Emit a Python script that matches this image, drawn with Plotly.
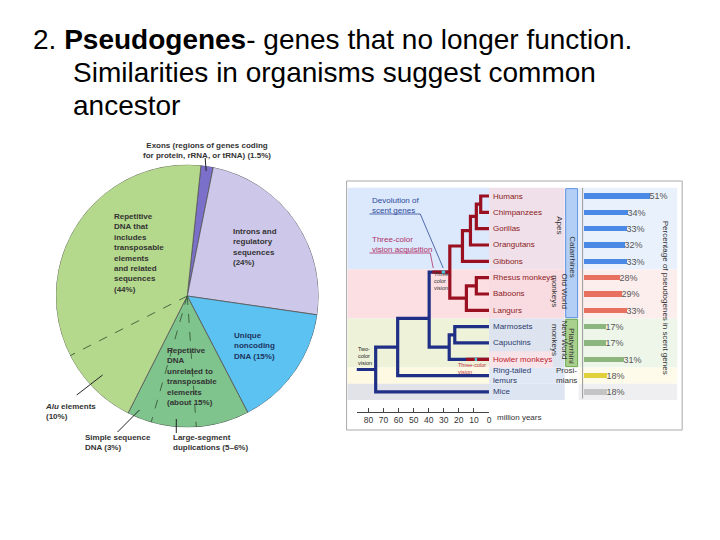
import plotly.graph_objects as go

W, H = 720, 540
OFF = 8  # page offset of the plot inside the browser window


def px(x):
    return (x - OFF) / W


def py(y):
    return 1 - (y - OFF) / H


# ------------------------------------------------------------------ data
title_lines = ["2. <b>Pseudogenes</b>- genes that no longer function.",
               "Similarities in organisms suggest common",
               "ancestor"]

# human genome composition (percent)
pie_categories = ["Exons", "Introns and regulatory sequences", "Unique noncoding DNA",
                  "Repetitive DNA unrelated to transposable elements",
                  "Repetitive DNA that includes transposable elements"]
pie_values = [1.5, 24, 15, 15, 44]
unrelated_parts = [6.5, 5.5, 3.0]   # other, large-segment duplications, simple sequence DNA
te_parts = [10, 34]                 # Alu elements, other transposable-element sequences

# primate tree and scent-gene pseudogenes
species = ["Humans", "Chimpanzees", "Gorillas", "Orangutans", "Gibbons",
           "Rhesus monkeys", "Baboons", "Langurs",
           "Marmosets", "Capuchins", "Howler monkeys",
           "Ring-tailed lemurs", "Mice"]
species_labels = ["Humans", "Chimpanzees", "Gorillas", "Orangutans", "Gibbons",
                  "Rhesus monkeys", "Baboons", "Langurs",
                  "Marmosets", "Capuchins", "Howler monkeys",
                  "Ring-tailed<br>lemurs", "Mice"]
scent_pct = [51, 34, 33, 32, 33, 28, 29, 33, 17, 17, 31, 18, 18]

group_names = ["Apes", "Old World<br>monkeys", "New World<br>monkeys", "Prosi-<br>mians", ""]
group_first = [0, 5, 8, 11, 12]
group_last = [4, 7, 10, 11, 12]
super_names = ["Catarrhines", "Platyrrhini"]
super_first = [0, 8]
super_last = [7, 10]

# (node, age in million years, children) -- listed from tips to root
tree_nodes = [
    ("HC", 5.5, ["Humans", "Chimpanzees"]),
    ("HCG", 8.4, ["HC", "Gorillas"]),
    ("GreatApes", 12.3, ["HCG", "Orangutans"]),
    ("Hominoids", 17.6, ["GreatApes", "Gibbons"]),
    ("RB", 8.4, ["Rhesus monkeys", "Baboons"]),
    ("OWM", 15.0, ["RB", "Langurs"]),
    ("Catarrhines", 26.0, ["Hominoids", "OWM"]),
    ("MC", 22.7, ["Marmosets", "Capuchins"]),
    ("Platyrrhines", 26.4, ["MC", "Howler monkeys"]),
    ("Anthropoids", 39.7, ["Catarrhines", "Platyrrhines"]),
    ("Primates", 60.6, ["Anthropoids", "Ring-tailed lemurs"]),
    ("Root", 75.2, ["Primates", "Mice"]),
]
root_stem_age = 87.9
anthropoid_row = 7.5
# events on branches: (branch ending at, from age, to age, kind)
branch_events = [
    ("Catarrhines", 37.5, 26.0, "three"),
    ("Catarrhines", 31.4, 29.1, "scent"),
    ("Howler monkeys", 15.2, 0.0, "three"),
    ("Howler monkeys", 9.5, 7.9, "scent"),
]
time_ticks = [80, 70, 60, 50, 40, 30, 20, 10, 0]

# ------------------------------------------------------------------ styles
pie_colors = ["#7b70c9", "#cdc8ea", "#5cc2f2", "#7ec48c", "#b5d98c"]
NAVY, RED, CYAN = "#1f2f85", "#9a1020", "#4ec3d6"
bar_colors = ["#4a8ae6"] * 5 + ["#e8705e"] * 3 + ["#8db57e"] * 3 + ["#e0d03c", "#c4c4c4"]
band_tree = ["#dce8fb", "#fcdfe3", "#eef2d9", "#fdf9e3", "#e2e3e8"]
band_label = ["#efe0ea", "#f9dce2", "#dde4f0", "#e1e8f5", "#dde5f3"]
band_bar = ["#e9f1fd", "#fdeeee", "#eef6ea", "#fefbea", "#efeff1"]
FONT = "Liberation Sans, Arial, sans-serif"

fig = go.Figure()
shapes = []
ann = []


def text(x, y, s, size=8, color="#2a2a2a", xanchor="left", yref=None, angle=0,
         align="left", yanchor="middle"):
    d = dict(x=px(x), xref="paper", text=s, showarrow=False, xanchor=xanchor,
             yanchor=yanchor, align=align, textangle=angle,
             font=dict(size=size, color=color, family=FONT))
    if yref:
        d.update(y=y, yref=yref)
    else:
        d.update(y=py(y), yref="paper")
    ann.append(d)


def pline(x0, y0, x1, y1, color="#222", width=1):
    shapes.append(dict(type="line", xref="paper", yref="paper", x0=px(x0), y0=py(y0),
                       x1=px(x1), y1=py(y1), line=dict(color=color, width=width)))


# ------------------------------------------------------------------ title
text(31, 40, title_lines[0], size=28, color="#000")
text(71, 73, title_lines[1], size=28, color="#000")
text(71, 106, title_lines[2], size=28, color="#000")

# ------------------------------------------------------------------ pie (barpolar)
START = 6.0
total = sum(pie_values)
scale = 360.0 / total
starts, widths, mids = [], [], []
cum = START
for v in pie_values:
    w = v * scale
    starts.append(cum)
    widths.append(w)
    mids.append(cum + w / 2)
    cum += w

fig.add_trace(go.Barpolar(r=[1] * len(pie_values), theta=mids, width=widths,
                          marker=dict(color=pie_colors, line=dict(color="#555", width=0.8)),
                          hovertext=pie_categories, showlegend=False, subplot="polar"))

dash_angles = []
c = starts[3]
for v in unrelated_parts[:-1]:
    c += v * scale
    dash_angles.append(c)
dash_angles.append(starts[4] + te_parts[0] * scale)
for a in dash_angles:
    fig.add_trace(go.Scatterpolar(r=[0, 1], theta=[a, a], mode="lines",
                                  line=dict(color="#3a5a3a", width=0.9, dash="dash"),
                                  showlegend=False, subplot="polar", hoverinfo="skip"))

# pie labels
text(207.5, 150, "<b>Exons (regions of genes coding<br>for protein, rRNA, or tRNA) (1.5%)</b>",
     xanchor="center", align="center", color="#333")
pline(206, 158, 207, 171, width=1)
text(112, 253, "<b>Repetitive<br>DNA that<br>includes<br>transposable<br>elements<br>and related<br>sequences<br>(44%)</b>", color="#333")
text(232, 247, "<b>Introns and<br>regulatory<br>sequences<br>(24%)</b>", color="#333")
text(233, 346, "<b>Unique<br>noncoding<br>DNA (15%)</b>", color="#1d3560")
text(166, 376, "<b>Repetitive<br>DNA<br>unrelated to<br>transposable<br>elements<br>(about 15%)</b>", color="#333")
text(43, 411, "<b><i>Alu</i> elements<br>(10%)</b>", color="#333")
pline(77, 395, 103, 375)
text(83, 442, "<b>Simple sequence<br>DNA (3%)</b>", color="#333")
pline(118, 432, 140, 410)
text(172, 442, "<b>Large-segment<br>duplications (5–6%)</b>", color="#333")
pline(177, 433, 177, 419)

# ------------------------------------------------------------------ tree
row = {s: float(i) for i, s in enumerate(species)}
age = {s: 0.0 for s in species}
children = {}
for n, a, kids in tree_nodes:
    age[n] = a
    children[n] = kids
    row[n] = sum(row[k] for k in kids) / len(kids)
    if n == "Anthropoids":
        row[n] = anthropoid_row


def descendants(n):
    out = {n}
    for k in children.get(n, []):
        out |= descendants(k)
    return out


red_set = descendants("Catarrhines")

paths = {NAVY: ([], []), RED: ([], [])}
for n, a, kids in tree_nodes:
    col = RED if n in red_set else NAVY
    xs, ys = paths[col]
    c1, c2 = kids
    xs += [age[c1], age[n], age[n], age[c2], None]
    ys += [row[c1], row[c1], row[c2], row[c2], None]
paths[NAVY][0].extend([root_stem_age, age["Root"], None])
paths[NAVY][1].extend([row["Root"], row["Root"], None])

for col in (NAVY, RED):
    fig.add_trace(go.Scatter(x=paths[col][0], y=paths[col][1], mode="lines",
                             line=dict(color=col, width=3.2), xaxis="x2", yaxis="y2",
                             showlegend=False, hoverinfo="skip"))
for kind, col in (("three", RED), ("scent", CYAN)):
    xs, ys = [], []
    for b, a0, a1, k in branch_events:
        if k == kind:
            xs += [a0, a1, None]
            ys += [row[b], row[b], None]
    fig.add_trace(go.Scatter(x=xs, y=ys, mode="lines", line=dict(color=col, width=3.2),
                             xaxis="x2", yaxis="y2", showlegend=False, hoverinfo="skip"))

# bars
fig.add_trace(go.Bar(x=scent_pct, y=list(range(len(species))), orientation="h",
                     marker=dict(color=bar_colors, line=dict(width=0)), width=0.34,
                     text=[f"{v}%" for v in scent_pct], textposition="outside",
                     constraintext="none",
                     textfont=dict(size=9, color="#555", family=FONT), cliponaxis=False,
                     xaxis="x3", yaxis="y2", showlegend=False))

# background bands
for i in range(len(group_first)):
    y0, y1 = group_first[i] - 0.5, group_last[i] + 0.5
    for (xa, xb, cols) in ((349, 491, band_tree), (491, 567, band_label), (581, 680, band_bar)):
        shapes.append(dict(type="rect", xref="paper", yref="y2", x0=px(xa), x1=px(xb),
                           y0=y0, y1=y1, fillcolor=cols[i], line=dict(width=0), layer="below"))
# howler row highlight in label column
shapes.append(dict(type="rect", xref="paper", yref="y2", x0=px(491), x1=px(555),
                   y0=row["Howler monkeys"] - 0.5, y1=row["Howler monkeys"] + 0.5,
                   fillcolor="#f7e3e8", line=dict(width=0), layer="below"))
# super-group bars
for i, (nm, f, l) in enumerate(zip(super_names, super_first, super_last)):
    fill, edge = (("#b3cff5", "#5d90e0") if i == 0 else ("#a9d08c", "#6ba84f"))
    shapes.append(dict(type="rect", xref="paper", yref="y2", x0=px(568), x1=px(580),
                       y0=f - 0.45, y1=l + 0.45, fillcolor=fill, line=dict(color=edge, width=1),
                       layer="below"))
    text(574.5, (f + l) / 2 + 0.2, nm, size=8, color="#333", xanchor="center",
         yref="y2", angle=90, align="center")
# bar baseline
shapes.append(dict(type="line", xref="paper", yref="y2", x0=px(585), x1=px(585),
                   y0=-0.5, y1=12.4, line=dict(color="#999", width=1)))
# panel frame
shapes.append(dict(type="rect", xref="paper", yref="paper", x0=px(348), x1=px(685),
                   y0=py(430), y1=py(181), line=dict(color="#aaa", width=1)))

# species labels
for i, lab in enumerate(species_labels):
    s = species[i]
    if s == "Howler monkeys":
        col = "#c21a2c"
    elif s in red_set:
        col = "#8c1a22"
    else:
        col = "#2b3a6b"
    text(493, row[s], lab, size=8, color=col, yref="y2")

# group labels
for i, nm in enumerate(group_names):
    if not nm:
        continue
    yc = (group_first[i] + group_last[i]) / 2
    if nm.startswith("Prosi"):
        text(556, yc, nm, size=8, color="#333", yref="y2")
    else:
        text(561.5, yc - 0.2, nm, size=8, color="#333", xanchor="center", yref="y2",
             angle=90, align="center")

text(669, 298, "Percentage of pseudogenes in scent genes", size=8, color="#333",
     xanchor="center", angle=90, align="center")

# tree annotations
text(372, 205, "Devolution of<br>scent genes", size=8, color="#2b4a9a")
pline(371, 214, 422, 214, color="#2b4a9a", width=0.8)
pline(422, 214, 445, 268, color="#2b4a9a", width=0.8)
text(372, 244, "Three-color<br>vision acquisition", size=8, color="#b0306a")
pline(371, 253, 432, 253, color="#b0306a", width=0.8)
pline(432, 253, 435, 268, color="#b0306a", width=0.8)
text(434, 281, "Three-<br>color<br>vision", size=5.5, color="#333")
text(357, 356, "Two-<br>color<br>vision", size=5.5, color="#222")
text(458, 368, "Three-color<br>vision", size=5.5, color="#c03040")
text(497, 417, "million years", size=8, color="#333")

fig.update_layout(
    width=W, height=H, margin=dict(l=0, r=0, t=0, b=0),
    paper_bgcolor="white", plot_bgcolor="rgba(0,0,0,0)",
    font=dict(family=FONT),
    polar=dict(domain=dict(x=[px(56), px(320)], y=[py(428), py(164)]),
               bgcolor="rgba(0,0,0,0)",
               radialaxis=dict(visible=False, range=[0, 1]),
               angularaxis=dict(visible=False, rotation=90, direction="clockwise")),
    xaxis2=dict(domain=[px(358), px(491)], range=[87.9, 0], anchor="free",
                position=py(411.5), showgrid=False, zeroline=False, showline=True,
                linecolor="#444", linewidth=1, ticks="inside", ticklen=4, tickcolor="#444",
                tickvals=time_ticks, ticktext=[str(t) for t in time_ticks],
                tickfont=dict(size=8.5, color="#333", family=FONT)),
    yaxis2=dict(domain=[py(430), py(181)], range=[(430 - 196) / 16.33, (181 - 196) / 16.33],
                anchor="x2", visible=False, showgrid=False, zeroline=False),
    xaxis3=dict(domain=[px(586), px(680)], range=[0, 94 / 1.3], anchor="y2",
                visible=False, showgrid=False, zeroline=False),
    shapes=shapes, annotations=ann, bargap=0,
)

fig.write_html("out.html")
